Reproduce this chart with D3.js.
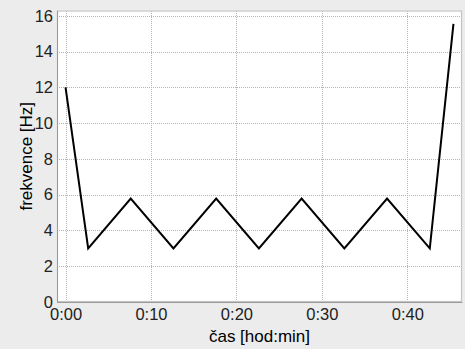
<!DOCTYPE html>
<html>
<head>
<meta charset="utf-8">
<script src="https://cdn.jsdelivr.net/npm/d3@7"></script>
<style>
  body { margin: 0; background: #ececec; }
  svg { display: block; }
</style>
</head>
<body>
<div id="chart"></div>
<script>
// time in minutes, frequency in Hz
const times = [0, 2.65, 7.63, 12.63, 17.63, 22.63, 27.63, 32.63, 37.63, 42.63, 45.4];
const freqs = [12, 3, 5.78, 3, 5.78, 3, 5.78, 3, 5.78, 3, 15.55];
const xTicks = [0, 10, 20, 30, 40];
const yTicks = [0, 2, 4, 6, 8, 10, 12, 14, 16];

const width = 465, height = 349;
const margin = {top: 10.5, right: 3, bottom: 47, left: 57};

const svg = d3.select('#chart').append('svg')
    .attr('width', width)
    .attr('height', height);

svg.append('rect').attr('width', width).attr('height', height).attr('fill', '#ececec');

const x = d3.scaleLinear().domain([-1, 46.4]).range([margin.left, width - margin.right]);
const y = d3.scaleLinear().domain([0, 16.3]).range([height - margin.bottom, margin.top]);

// plot background
svg.append('rect')
    .attr('x', x.range()[0])
    .attr('y', y.range()[1])
    .attr('width', x.range()[1] - x.range()[0])
    .attr('height', y.range()[0] - y.range()[1])
    .attr('fill', 'white');

// grid
const grid = svg.append('g').attr('stroke', '#b4b4b4').attr('stroke-width', 1)
    .attr('stroke-dasharray', '1,1').attr('shape-rendering', 'crispEdges');
grid.selectAll('.gx').data(xTicks).join('line')
    .attr('x1', (d) => Math.round(x(d)) + 0.5).attr('x2', (d) => Math.round(x(d)) + 0.5)
    .attr('y1', y.range()[1]).attr('y2', y.range()[0]);
grid.selectAll('.gy').data(yTicks).join('line')
    .attr('y1', (d) => Math.round(y(d)) + 0.5).attr('y2', (d) => Math.round(y(d)) + 0.5)
    .attr('x1', x.range()[0]).attr('x2', x.range()[1]);

// frame
svg.append('rect')
    .attr('x', x.range()[0] + 0.5)
    .attr('y', y.range()[1] + 0.5)
    .attr('width', x.range()[1] - x.range()[0] - 1)
    .attr('height', y.range()[0] - y.range()[1] - 1)
    .attr('fill', 'none')
    .attr('stroke', '#c4c4c4')
    .attr('stroke-width', 1.2);

// axes
const fmt = (d) => '0:' + d3.format('02d')(d);
const xAxis = svg.append('g')
    .attr('transform', `translate(0,${y.range()[0]})`)
    .call(d3.axisBottom(x).tickValues(xTicks).tickFormat(fmt).tickSize(0).tickPadding(6));
const yAxis = svg.append('g')
    .attr('transform', `translate(${x.range()[0]},0)`)
    .call(d3.axisLeft(y).tickValues(yTicks).tickSize(0).tickPadding(4));

[xAxis, yAxis].forEach((a) => {
  a.select('.domain').attr('stroke', '#9a9a9a');
  a.selectAll('text')
      .attr('fill', '#222')
      .style('font-family', '"Liberation Sans", Arial, sans-serif')
      .style('font-size', '16.5px');
});

// line
const line = d3.line().x((d, i) => x(times[i])).y((d) => y(d));
svg.append('path')
    .datum(freqs)
    .attr('d', line)
    .attr('fill', 'none')
    .attr('stroke', '#000')
    .attr('stroke-width', 2)
    .attr('stroke-linejoin', 'miter');

// axis labels
svg.append('text')
    .attr('x', (x.range()[0] + x.range()[1]) / 2)
    .attr('y', 342)
    .attr('text-anchor', 'middle')
    .style('font-family', '"Liberation Sans", Arial, sans-serif')
    .style('font-size', '17px')
    .attr('fill', '#000')
    .text('čas [hod:min]');

svg.append('text')
    .attr('transform', `translate(32,${(y.range()[0] + y.range()[1]) / 2}) rotate(-90)`)
    .attr('text-anchor', 'middle')
    .style('font-family', '"Liberation Sans", Arial, sans-serif')
    .style('font-size', '17px')
    .attr('fill', '#000')
    .text('frekvence [Hz]');
</script>
</body>
</html>
